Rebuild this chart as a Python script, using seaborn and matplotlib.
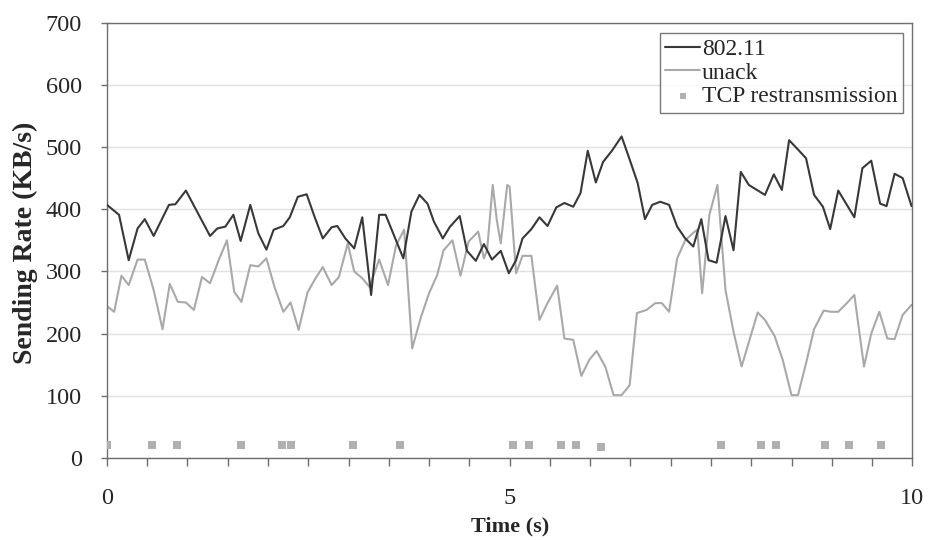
import matplotlib
matplotlib.use("Agg")
import matplotlib.pyplot as plt
import seaborn as sns
import pandas as pd
from matplotlib.ticker import MultipleLocator

# ---- data ----
dark_t = [0.00, 0.15, 0.27, 0.38, 0.47, 0.58, 0.77, 0.85, 0.98, 1.28,
          1.37, 1.47, 1.57, 1.66, 1.78, 1.88, 1.98, 2.07, 2.19, 2.27,
          2.37, 2.48, 2.58, 2.68, 2.79, 2.86, 2.96, 3.07, 3.17, 3.28,
          3.38, 3.46, 3.68, 3.78, 3.88, 3.98, 4.06, 4.17, 4.26, 4.38,
          4.47, 4.58, 4.68, 4.78, 4.89, 4.99, 5.08, 5.16, 5.27, 5.37,
          5.47, 5.58, 5.68, 5.79, 5.88, 5.97, 6.07, 6.16, 6.27, 6.39,
          6.49, 6.59, 6.68, 6.77, 6.87, 6.98, 7.08, 7.18, 7.28, 7.38,
          7.47, 7.57, 7.68, 7.78, 7.87, 7.97, 8.07, 8.17, 8.28, 8.38,
          8.47, 8.58, 8.68, 8.78, 8.89, 8.98, 9.08, 9.28, 9.38, 9.49,
          9.60, 9.68, 9.78, 9.88, 9.99]
dark_v = [407, 391, 318, 369, 384, 357, 407, 408, 430, 357,
          369, 372, 391, 349, 407, 361, 335, 367, 373, 387,
          420, 424, 387, 353, 371, 373, 353, 337, 387, 262,
          391, 391, 321, 396, 423, 409, 380, 353, 372, 389,
          333, 317, 344, 319, 333, 297, 318, 353, 368, 387,
          373, 403, 410, 404, 426, 494, 443, 476, 494, 517,
          480, 442, 384, 407, 412, 407, 372, 353, 340, 384,
          318, 314, 389, 334, 460, 439, 431, 423, 456, 431,
          511, 496, 482, 423, 404, 368, 430, 387, 466, 478,
          409, 405, 457, 450, 405]

gray_t = [0.01, 0.09, 0.18, 0.27, 0.38, 0.47, 0.58, 0.69, 0.78, 0.88,
          0.98, 1.08, 1.18, 1.28, 1.39, 1.49, 1.58, 1.67, 1.78, 1.88,
          1.98, 2.08, 2.19, 2.28, 2.38, 2.49, 2.59, 2.68, 2.79, 2.88,
          2.99, 3.07, 3.17, 3.26, 3.38, 3.49, 3.59, 3.69, 3.73, 3.79,
          3.90, 4.00, 4.10, 4.18, 4.29, 4.39, 4.49, 4.61, 4.68, 4.72,
          4.79, 4.84, 4.89, 4.97, 5.00, 5.08, 5.16, 5.27, 5.37, 5.47,
          5.59, 5.68, 5.79, 5.89, 5.99, 6.08, 6.19, 6.29, 6.39, 6.49,
          6.58, 6.70, 6.81, 6.89, 6.98, 7.08, 7.18, 7.28, 7.33, 7.39,
          7.48, 7.58, 7.68, 7.78, 7.88, 8.08, 8.17, 8.29, 8.39, 8.50,
          8.58, 8.68, 8.78, 8.90, 8.99, 9.08, 9.18, 9.28, 9.40, 9.49,
          9.59, 9.69, 9.78, 9.88, 9.99]
gray_v = [243, 235, 293, 278, 319, 319, 270, 207, 280, 251,
          250, 238, 291, 281, 319, 350, 267, 251, 310, 308,
          321, 275, 235, 250, 206, 266, 289, 307, 278, 291,
          345, 300, 289, 275, 319, 278, 342, 367, 291, 176,
          227, 265, 294, 334, 350, 293, 348, 364, 321, 334,
          439, 383, 345, 439, 436, 297, 325, 325, 222, 249,
          277, 192, 190, 132, 158, 172, 146, 101, 101, 117,
          233, 238, 249, 249, 235, 321, 350, 362, 367, 265,
          391, 439, 270, 203, 147, 234, 222, 196, 158, 101,
          101, 152, 207, 237, 235, 235, 248, 262, 147, 200,
          235, 192, 191, 230, 246]

tcp_t = [0.00, 0.56, 0.87, 1.66, 2.17, 2.28, 3.06, 3.64, 5.04, 5.24,
         5.64, 5.83, 6.13, 7.63, 8.12, 8.31, 8.91, 9.21, 9.61]
tcp_v = [20, 20, 20, 20, 20, 20, 20, 20, 20, 20,
         20, 20, 17, 20, 20, 20, 20, 20, 20]

series_labels = ["802.11", "unack", "TCP restransmission"]
x_label = "Time (s)"
y_label = "Sending Rate (KB/s)"

# ---- style ----
sns.set_theme(style="white")
plt.rcParams["font.family"] = ["Liberation Serif", "DejaVu Serif"]

fig = plt.figure(figsize=(9.3, 5.4), dpi=100)
ax = fig.add_axes([0.115, 0.152, 0.866, 0.806])

df_dark = pd.DataFrame({"t": dark_t, "v": dark_v})
df_gray = pd.DataFrame({"t": gray_t, "v": gray_v})
df_tcp = pd.DataFrame({"t": tcp_t, "v": tcp_v})

ax.yaxis.grid(True, color="#e4dfe4", linewidth=1.0)
ax.set_axisbelow(True)

sns.lineplot(data=df_dark, x="t", y="v", ax=ax, color="#383838",
             linewidth=1.5, label=series_labels[0], sort=False, zorder=3)
sns.lineplot(data=df_gray, x="t", y="v", ax=ax, color="#a9a9a9",
             linewidth=1.5, label=series_labels[1], sort=False, zorder=2)
sns.scatterplot(data=df_tcp, x="t", y="v", ax=ax, color="#b0b0b0",
                marker="s", s=30, linewidth=0, label=series_labels[2], zorder=4)

ax.set_xlim(0, 10)
ax.set_ylim(0, 700)
ax.xaxis.set_major_locator(MultipleLocator(5))
ax.xaxis.set_minor_locator(MultipleLocator(0.5))
ax.yaxis.set_major_locator(MultipleLocator(100))

for s in ax.spines.values():
    s.set_color("#6e6e6e")
    s.set_linewidth(1.0)

ax.tick_params(axis="y", which="major", direction="out", length=4, width=1,
               color="#6e6e6e", labelsize=17.5, pad=14, left=True)
ax.tick_params(axis="x", which="major", direction="out", length=6, width=1,
               color="#6e6e6e", labelsize=17.5, pad=16, bottom=True)
ax.tick_params(axis="x", which="minor", direction="out", length=6, width=1,
               color="#6e6e6e", bottom=True)

ax.set_xlabel(x_label, fontsize=16, fontweight="bold", labelpad=0)
ax.set_ylabel(y_label, fontsize=20, fontweight="bold", labelpad=8)
ax.yaxis.set_label_coords(-0.086, 0.495)
ax.xaxis.set_label_coords(0.5, -0.135)

leg = ax.legend(loc="upper right", bbox_to_anchor=(0.989, 0.977),
                borderaxespad=0, fontsize=17, frameon=True, fancybox=False,
                edgecolor="#555555", handlelength=1.45, handletextpad=0.1,
                labelspacing=0.08, borderpad=0.25, markerscale=0.8)
leg.get_frame().set_linewidth(1.0)

fig.savefig("out.png", dpi=100)
